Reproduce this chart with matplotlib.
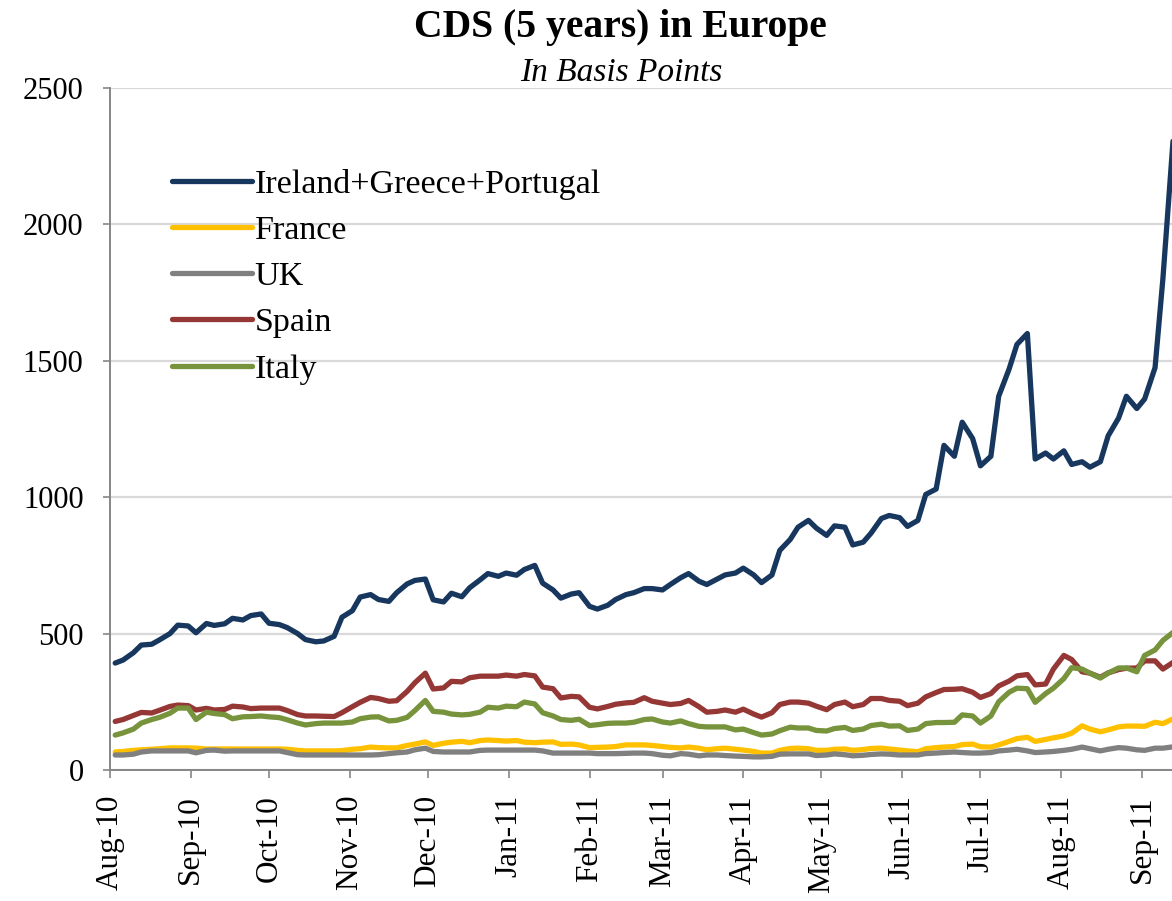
import matplotlib
matplotlib.use("Agg")
import matplotlib.pyplot as plt
import matplotlib.dates as mdates
import pandas as pd

plt.rcParams["font.family"] = ["Liberation Serif", "DejaVu Serif"]

# Observation dates: Tuesdays and Fridays, Aug-2010 to Sep-2011
tuesdays = pd.date_range("2010-08-03", "2011-09-13", freq="W-TUE")
fridays = pd.date_range("2010-08-06", "2011-09-09", freq="W-FRI")
dates = tuesdays.union(fridays)

# 5-year CDS spreads, basis points
igp = [392, 403, 430, 458, 461, 477, 500, 531, 528, 503, 537, 530, 536, 556,
       550, 566, 572, 538, 533, 522, 500, 478, 470, 473, 490, 560, 584, 634,
       643, 625, 618, 650, 682, 695, 700, 624, 616, 648, 635, 668, 697, 720,
       710, 722, 714, 735, 750, 685, 660, 630, 645, 650, 600, 590, 604, 625,
       643, 650, 665, 665, 660, 680, 705, 720, 692, 680, 700, 715, 722, 740,
       715, 687, 715, 805, 845, 890, 915, 887, 860, 895, 890, 825, 835, 868,
       922, 933, 925, 893, 915, 1010, 1030, 1190, 1150, 1275, 1215, 1115,
       1150, 1370, 1470, 1560, 1600, 1140, 1162, 1140, 1170, 1120, 1130, 1110,
       1130, 1225, 1290, 1370, 1325, 1360, 1475, 1800, 2320]

france = [66, 68, 72, 74, 76, 78, 81, 81, 81, 80, 77, 77, 77, 77, 77, 77, 77,
          77, 77, 76, 72, 70, 70, 70, 70, 71, 76, 78, 84, 82, 81, 81, 90, 95,
          103, 90, 98, 102, 105, 100, 108, 110, 108, 106, 108, 102, 100, 102,
          103, 94, 95, 92, 82, 83, 84, 86, 92, 92, 92, 90, 86, 83, 81, 84, 80,
          74, 78, 80, 76, 73, 68, 62, 62, 72, 79, 80, 78, 72, 72, 76, 77, 72,
          75, 79, 80, 77, 73, 70, 67, 78, 82, 84, 86, 93, 95, 85, 84, 92, 105,
          115, 120, 105, 112, 118, 125, 135, 162, 150, 140, 147, 158, 161,
          161, 160, 175, 170, 188]

uk = [55, 55, 58, 66, 70, 70, 70, 70, 70, 63, 72, 73, 69, 70, 70, 70, 70, 70,
      70, 64, 56, 55, 55, 55, 55, 55, 55, 55, 55, 56, 60, 63, 66, 74, 80, 68,
      66, 66, 66, 66, 72, 73, 73, 73, 73, 73, 73, 70, 62, 62, 62, 62, 62, 60,
      60, 60, 61, 62, 62, 60, 54, 52, 60, 58, 52, 55, 55, 53, 51, 50, 48, 48,
      50, 58, 59, 59, 59, 53, 55, 59, 56, 52, 54, 57, 59, 58, 55, 55, 55, 60,
      62, 64, 66, 64, 62, 62, 64, 70, 73, 76, 70, 64, 66, 68, 72, 76, 84, 78,
      70, 76, 82, 80, 74, 72, 80, 80, 85]

spain = [178, 185, 200, 211, 209, 219, 233, 238, 236, 220, 226, 220, 222, 234,
         231, 225, 227, 227, 227, 218, 203, 198, 198, 197, 196, 210, 232, 248,
         266, 262, 252, 254, 288, 320, 355, 297, 301, 325, 323, 338, 344, 344,
         344, 348, 344, 350, 345, 304, 298, 264, 270, 268, 230, 224, 233, 241,
         246, 248, 265, 252, 245, 240, 244, 255, 232, 212, 215, 220, 212, 223,
         205, 194, 210, 240, 249, 249, 245, 234, 221, 240, 249, 232, 240, 262,
         262, 255, 252, 236, 245, 268, 284, 295, 296, 298, 285, 266, 280, 308,
         326, 345, 350, 312, 315, 370, 420, 405, 360, 355, 340, 356, 368, 373,
         374, 400, 400, 370, 395]

italy = [128, 136, 150, 172, 185, 193, 208, 227, 227, 185, 212, 207, 203, 188,
         195, 196, 198, 195, 192, 184, 172, 165, 170, 172, 172, 172, 176, 188,
         194, 195, 180, 182, 193, 218, 255, 215, 212, 205, 202, 204, 212, 230,
         227, 234, 232, 249, 242, 210, 198, 185, 182, 186, 163, 166, 171, 172,
         172, 175, 185, 187, 176, 172, 180, 170, 160, 158, 158, 158, 147, 150,
         137, 128, 132, 144, 157, 154, 154, 145, 143, 152, 156, 145, 150, 163,
         168, 161, 162, 145, 150, 170, 174, 174, 175, 202, 198, 172, 198, 250,
         285, 300, 298, 248, 280, 300, 335, 375, 370, 355, 337, 355, 374, 374,
         360, 420, 440, 475, 505]

series_names = ["Ireland+Greece+Portugal", "France", "UK", "Spain", "Italy"]
series_values = [igp, france, uk, spain, italy]
series_colors = ["#17375E", "#FFC000", "#808080", "#953735", "#77933C"]

month_ticks = pd.date_range("2010-08-01", "2011-09-01", freq="MS")

LW = 3.8

fig = plt.figure(figsize=(11.72, 9.01), dpi=100)
ax = fig.add_axes([110 / 1172, 1 - 770 / 901, 1 - 110 / 1172, (770 - 88) / 901])

for name, vals, col in zip(series_names, series_values, series_colors):
    ax.plot(dates, vals, color=col, lw=LW, label=name, solid_joinstyle="round",
            solid_capstyle="round")

ax.set_ylim(0, 2500)
ax.set_yticks(range(0, 2501, 500))
ax.set_xlim(pd.Timestamp("2010-08-01"), pd.Timestamp("2011-09-12 12:00"))
ax.set_xticks(month_ticks)
ax.xaxis.set_major_formatter(mdates.DateFormatter("%b-%y"))

ax.grid(axis="y", color="#D9D9D9", lw=1.6)
ax.set_axisbelow(True)
for side in ("top", "right"):
    ax.spines[side].set_visible(False)
for side in ("left", "bottom"):
    ax.spines[side].set_color("#868686")
    ax.spines[side].set_linewidth(1.4)

ax.tick_params(axis="y", labelsize=22, length=5, width=1.2, color="#868686",
               pad=14, direction="out")
ax.tick_params(axis="x", labelsize=22.5, length=6, width=1.2, color="#868686",
               pad=12, direction="out", labelrotation=90)

fig.text(620 / 1172, 1 - 28 / 901, "CDS (5 years) in Europe", ha="center",
         va="center", fontsize=28.5, fontweight="bold")
fig.text(621 / 1172, 1 - 73 / 901, "In Basis Points", ha="center", va="center",
         fontsize=24, style="italic")

leg = ax.legend(loc="upper left", bbox_to_anchor=(172 / 1172, 1 - 169 / 901),
                bbox_transform=fig.transFigure, frameon=False, fontsize=24.5,
                handlelength=2.35, handletextpad=0.08, labelspacing=0.45,
                borderpad=0, borderaxespad=0)
for line in leg.get_lines():
    line.set_linewidth(LW)

fig.savefig("out.png", dpi=100)
